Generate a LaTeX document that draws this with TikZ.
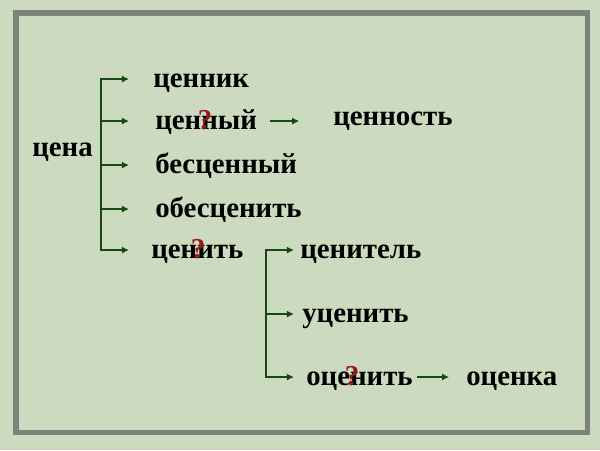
\documentclass[tikz,border=0pt]{standalone}
\usepackage{fontspec}
\setmainfont{Liberation Serif}
\usepackage{tikz}
\usetikzlibrary{
  arrows.meta,
  calc,         % Calculations $...$
}
\definecolor{paper}{RGB}{204,219,192}
\definecolor{framegray}{RGB}{125,130,125}
\definecolor{arrowgreen}{RGB}{22,72,18}
\definecolor{askred}{RGB}{150,24,24}
\def\mywordsize{20.5}
\tikzset{
  >={Latex[length=5pt,width=5pt]},
  board/.style={
    x=0.025cm,
    y=-0.025cm
  },
  word/.style={
    font=\fontsize{\mywordsize}{24}\selectfont\bfseries,
    inner sep=0mm,
    text height=11.3pt,
    text depth=0pt,
    anchor=base west
  },
  ask/.style={
    word,
    text=askred,
    anchor=base
  },
  stem/.style={
    draw=arrowgreen,
    line width=1.7pt,
    line cap=rect
  },
  branch/.style={
    stem,
    ->
  },
  frame/.style={
    draw=framegray,
    line width=3.9pt
  }
}
\begin{document}
\begin{tikzpicture}[board]
\useasboundingbox (0,0) rectangle (600,450);
\fill[paper] (0,0) rectangle (600,450);
\draw[frame] (16,13) rectangle (587.5,432.5);
% first level
\node[word] (tsena)      at (32,156)  {цена};
\node[word] (tsennik)    at (153,87)  {ценник};
\node[word] (tsenny)     at (155,129) {ценный};
\node[word] (bestsenny)  at (155,173) {бесценный};
\node[word] (obestsenit) at (155,217) {обесценить};
\node[word] (tsenit)     at (151,258) {ценить};
% second level
\node[word] (tsennost)   at (333,125) {ценность};
\node[word] (tsenitel)   at (300,258) {ценитель};
\node[word] (utsenit)    at (302,322) {уценить};
\node[word] (otsenit)    at (306,385) {оценить};
\node[word] (otsenka)    at (466,385) {оценка};
% question marks
\node[ask] (q1) at (205,129) {?};
\node[ask] (q2) at (198,258) {?};
\node[ask] (q3) at (352,385) {?};
% brackets
\coordinate (trunk1) at (101,0);
\coordinate (tip1)   at (129,0);
\coordinate (trunk2) at (266,0);
\coordinate (tip2)   at (294,0);
\draw[stem] (trunk1 |- tsennik) -- (trunk1 |- tsenit);
\foreach \w in {tsennik,tsenny,bestsenny,obestsenit,tsenit}
  \draw[branch] (trunk1 |- \w) -- (tip1 |- \w);
\draw[stem] (trunk2 |- tsenitel) -- (trunk2 |- otsenit);
\foreach \w in {tsenitel,utsenit,otsenit}
  \draw[branch] (trunk2 |- \w) -- (tip2 |- \w);
% single arrows
\draw[branch] ([xshift=10pt]tsenny.east) -- ([xshift=-24pt]tsenny.east -| tsennost.west);
\draw[branch,shorten <=3.5pt,shorten >=12pt] (otsenit) -- (otsenka);
\end{tikzpicture}
\end{document}
